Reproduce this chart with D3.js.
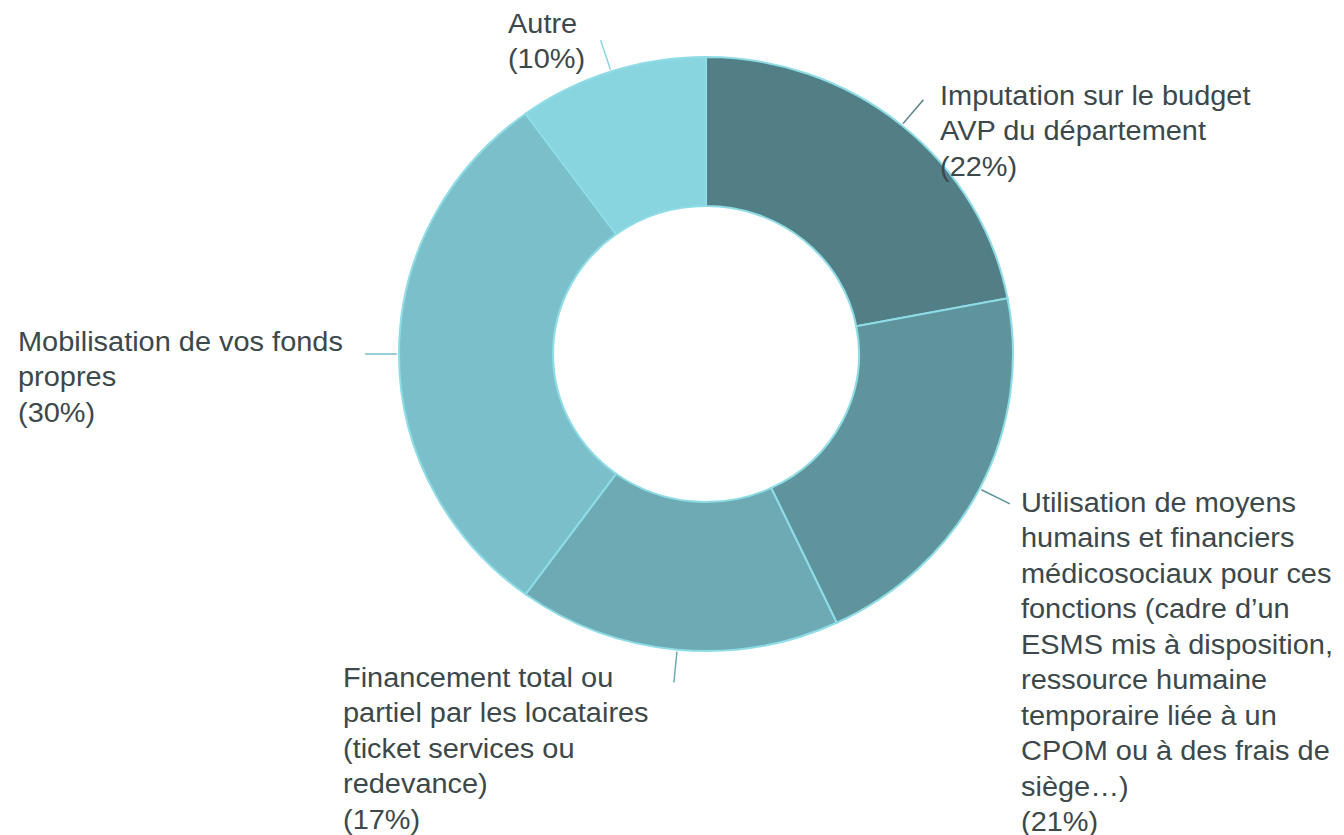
<!DOCTYPE html>
<meta charset="utf-8">
<style>
body{
	margin:0;
	background:#fff;
}
text{
	font-family:"Liberation Sans", Arimo, Arial, sans-serif;
	font-size:28px;
	fill:#3c484a;
}
.slice{
	stroke:#8edce6;
	stroke-width:2px;
}
</style>
<body>
<script src="https://d3js.org/d3.v7.min.js"></script>
<script>

var labels=[
	["Imputation sur le budget","AVP du département"],
	["Utilisation de moyens","humains et financiers","médicosociaux pour ces","fonctions (cadre d’un","ESMS mis à disposition,","ressource humaine","temporaire liée à un","CPOM ou à des frais de","siège…)"],
	["Financement total ou","partiel par les locataires","(ticket services ou","redevance)"],
	["Mobilisation de vos fonds","propres"],
	["Autre"]
];
var values=[22,21,17,30,10];
var colors=["#527f86","#5f949c","#6eaab4","#7bbfca","#88d5e0"];

// where each label block starts (x, first baseline)
var labelX=[940,1021,343,18,508];
var labelY=[105,512,687,351,33];

var W=1344,H=835;
var cx=706,cy=354,R=297,r=148,sx=307/297;
var lineH=35.5;

var svg=d3.select("body").append("svg").attr("width",W).attr("height",H);
var g=svg.append("g").attr("transform","translate("+cx+","+cy+") scale("+sx+",1)");

var pie=d3.pie().sort(null).value(d=>d);
var arcs=pie(values);
var arc=d3.arc().innerRadius(r).outerRadius(R);

g.selectAll("path.slice").data(arcs).enter().append("path")
	.attr("class","slice")
	.attr("d",arc)
	.attr("fill",(d,i)=>colors[i]);

// leader lines, radial from each slice's mid angle
svg.selectAll("line.lead").data(arcs).enter().append("line")
	.attr("class","lead")
	.attr("x1",d=>cx+Math.sin((d.startAngle+d.endAngle)/2)*(R+2)*sx)
	.attr("y1",d=>cy-Math.cos((d.startAngle+d.endAngle)/2)*(R+2))
	.attr("x2",d=>cx+Math.sin((d.startAngle+d.endAngle)/2)*(R+33)*sx)
	.attr("y2",d=>cy-Math.cos((d.startAngle+d.endAngle)/2)*(R+33))
	.attr("stroke",(d,i)=>colors[i])
	.attr("stroke-width",1.5);

// text is drawn slightly stretched, like the rest of the picture
var tg=svg.append("g").attr("transform","scale("+sx+",1)");

var lab=tg.selectAll("text.label").data(arcs).enter().append("text")
	.attr("class","label")
	.attr("x",(d,i)=>labelX[i]/sx)
	.attr("y",(d,i)=>labelY[i]);

lab.each(function(d,i){
	var t=d3.select(this);
	var lines=labels[i].concat(["("+values[i]+"%)"]);
	lines.forEach(function(s,j){
		t.append("tspan")
			.attr("x",labelX[i]/sx)
			.attr("y",labelY[i]+j*lineH)
			.text(s);
	});
});

</script>
</body>
</html>
